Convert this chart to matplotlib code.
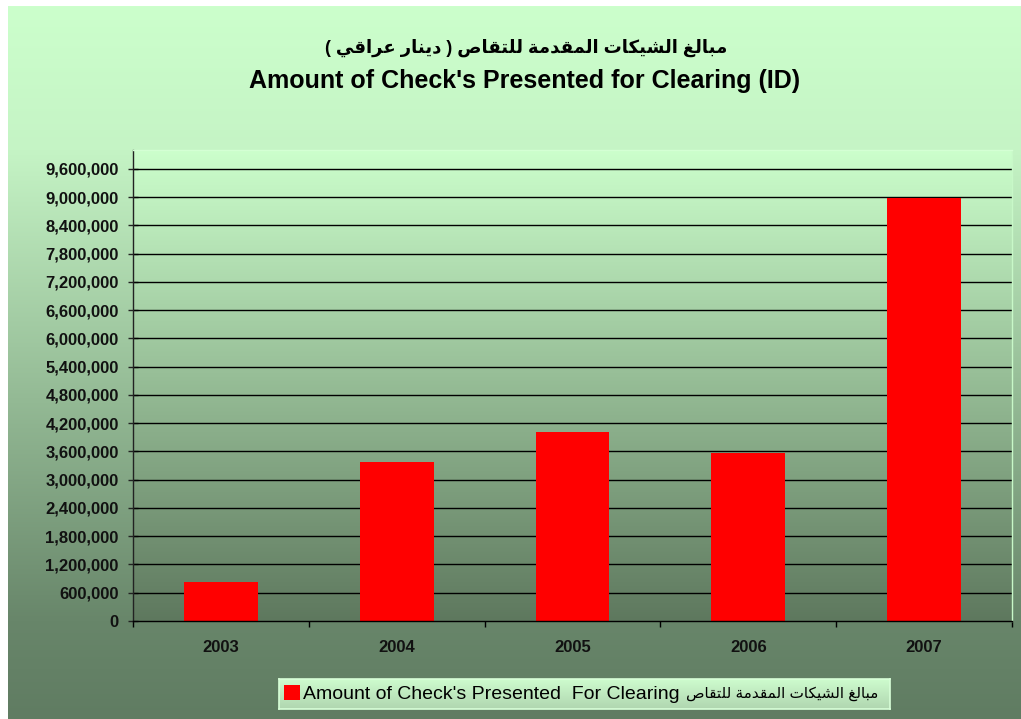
import numpy as np
import matplotlib
matplotlib.use("Agg")
import matplotlib.pyplot as plt
from matplotlib.ticker import FuncFormatter, FixedLocator
from matplotlib.patches import Patch

# ---------------- data ----------------
years = ["2003", "2004", "2005", "2006", "2007"]
amounts = [830000, 3370000, 4010000, 3570000, 8990000]
ytick_values = list(range(0, 9600001, 600000))
title_ar = "مبالغ الشيكات المقدمة للتقاص ( دينار عراقي )"
title_en = "Amount of Check's Presented for Clearing (ID)"
legend_en = "Amount of Check's Presented  For Clearing"
legend_ar = "مبالغ الشيكات المقدمة للتقاص"

# ---------------- simple Arabic shaping (matplotlib has no bidi/shaping) ----------------
FORMS = {
    'ا': (0xFE8D, False), 'ب': (0xFE8F, True), 'ة': (0xFE93, False), 'ت': (0xFE95, True),
    'د': (0xFEA9, False), 'ر': (0xFEAD, False), 'ش': (0xFEB5, True), 'ص': (0xFEB9, True),
    'ع': (0xFEC9, True), 'غ': (0xFECD, True), 'ق': (0xFED5, True), 'ك': (0xFED9, True),
    'ل': (0xFEDD, True), 'م': (0xFEE1, True), 'ن': (0xFEE5, True), 'ي': (0xFEF1, True),
}


def shape(s):
    out = []
    for i, ch in enumerate(s):
        if ch not in FORMS:
            out.append(ch)
            continue
        base, dual = FORMS[ch]
        prev = s[i - 1] if i > 0 else None
        nxt = s[i + 1] if i + 1 < len(s) else None
        jp = prev in FORMS and FORMS[prev][1]
        jn = dual and (nxt in FORMS)
        off = 3 if (jp and jn) else 1 if jp else 2 if jn else 0
        out.append(chr(base + off))
    return "".join(out)


def visual(s):
    mirror = {"(": ")", ")": "("}
    return "".join(mirror.get(c, c) for c in reversed(shape(s)))


FAM = ["Liberation Sans", "DejaVu Sans"]
plt.rcParams["font.family"] = FAM

W, H = 1021, 719
fig = plt.figure(figsize=(W / 100, H / 100), dpi=100, facecolor="white")


def grad_stops(stops, n=512):
    """stops: list of (fraction from top, (r,g,b))"""
    t = np.linspace(0, 1, n)
    fr = [s[0] for s in stops]
    cols = np.array([s[1] for s in stops], dtype=float) / 255.0
    g = np.stack([np.interp(t, fr, cols[:, k]) for k in range(3)], axis=1)
    return g[:, None, :]


# chart area background (y pixels 6..719)
cy0, cy1 = 6, 719
def f(y):
    return (y - cy0) / (cy1 - cy0)

bg = fig.add_axes([8 / W, 0, 1 - 8 / W, (H - cy0) / H], zorder=-10)
bg.imshow(grad_stops([(0, (204, 255, 204)), (f(150), (197, 244, 197)),
                      (f(621), (104, 134, 106)), (1, (96, 124, 98))]),
          aspect="auto", extent=[0, 1, 0, 1])
bg.set_xlim(0, 1)
bg.set_ylim(0, 1)
bg.axis("off")

# plot area
left, right, top, bottom = 133, 1012, 150, 621
ax = fig.add_axes([left / W, (H - bottom) / H, (right - left) / W, (bottom - top) / H])
ax.set_facecolor("none")
ax.imshow(grad_stops([(0, (204, 255, 204)), (1, (94, 120, 94))]), aspect="auto",
          extent=[0, 1, 0, 1], transform=ax.transAxes, zorder=0)

x = np.arange(len(years))
ax.bar(x, amounts, width=0.42, color="#FF0000", edgecolor="none", zorder=3)

ax.set_xlim(-0.5, len(years) - 0.5)
ax.set_ylim(0, 10000000)
ax.yaxis.set_major_locator(FixedLocator(ytick_values))
ax.yaxis.set_major_formatter(FuncFormatter(lambda v, p: f"{int(v):,}"))
for v in ytick_values[1:]:
    ax.axhline(v, color="black", lw=1.0, zorder=2)

ax.set_xticks(x)
ax.set_xticklabels(years)
ax.set_xticks(np.arange(len(years) + 1) - 0.5, minor=True)
ax.tick_params(axis="x", which="major", length=0, pad=14, labelsize=12)
ax.tick_params(axis="x", which="minor", length=4, direction="out", color="black", width=1)
ax.tick_params(axis="y", which="major", length=7.5, direction="inout", color="#222222",
               width=1, pad=6.5, labelsize=12)
for lab in ax.get_xticklabels() + ax.get_yticklabels():
    lab.set_fontweight("bold")
    lab.set_color("#111111")

ax.spines["left"].set_color("#222222")
ax.spines["bottom"].set_color("black")
ax.spines["top"].set_color("#D4FFD4")
ax.spines["right"].set_color("#C8F8C8")
for s in ax.spines.values():
    s.set_linewidth(1.0)
    s.set_zorder(4)

# titles
fig.text(526.5 / W, 1 - 53 / H, visual(title_ar), ha="center", va="baseline",
         fontsize=13, fontweight="bold", family=FAM, color="black")
fig.text(524.5 / W, 1 - 88.3 / H, title_en, ha="center", va="baseline",
         fontsize=18, fontweight="bold", family=FAM, color="black")

# legend box with gradient
lx0, lx1, ly0, ly1 = 279, 890, 679, 709
lw_px = lx1 - lx0
lax = fig.add_axes([lx0 / W, (H - ly1) / H, lw_px / W, (ly1 - ly0) / H], zorder=5)
lax.imshow(grad_stops([(0, (206, 252, 206)), (1, (176, 214, 176))]), aspect="auto",
           extent=[0, 1, 0, 1])
lax.set_xlim(0, 1)
lax.set_ylim(0, 1)
lax.set_xticks([])
lax.set_yticks([])
for s in lax.spines.values():
    s.set_color("#D8FFD8")
    s.set_linewidth(1.2)
handle = Patch(facecolor="#FF0000", edgecolor="none")
lax.legend([handle], [legend_en], loc="center left", bbox_to_anchor=(5 / lw_px, 0.5),
           frameon=False, prop={"family": FAM, "size": 14},
           handlelength=0.8, handleheight=0.8, handletextpad=0.2,
           borderpad=0, borderaxespad=0)
lax.text((878 - lx0) / lw_px, 0.5, visual(legend_ar), ha="right", va="center",
         fontsize=11, family=FAM, color="black", transform=lax.transAxes)

fig.savefig("out.png", dpi=100, facecolor="white")
